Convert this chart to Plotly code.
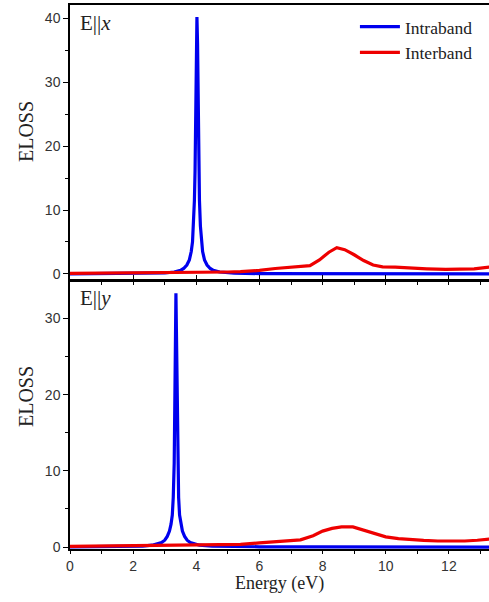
import plotly.graph_objects as go

# ---- data: top panel (E || x) ----
intra_x_e = [0, 1, 2, 2.5, 3.0, 3.3, 3.5, 3.6, 3.7, 3.78, 3.84, 3.88, 3.91, 3.94, 3.96, 3.98,
             4.0, 4.02, 4.04, 4.06, 4.08, 4.10, 4.13, 4.16, 4.20, 4.26, 4.34, 4.44, 4.54, 4.74,
             5.2, 6, 8, 10, 14]
intra_y_e = [0.02, 0.04, 0.06, 0.09, 0.15, 0.3, 0.55, 0.85, 1.4, 2.2, 3.5, 5.0, 7.5, 11.5, 16.0, 25.0,
             36.0, 40.2, 36.0, 25.0, 16.0, 11.5, 7.5, 5.0, 3.5, 2.2, 1.4, 0.85, 0.55, 0.3,
             0.12, 0.05, 0.02, 0.01, 0.0]
inter_x_e = [0, 1, 2, 3, 4, 4.5, 5.0, 5.4, 6.0, 6.5, 7.0, 7.6, 7.9, 8.2, 8.45, 8.7, 9.0, 9.3, 9.6,
             9.9, 10.3, 10.7, 11.3, 11.9, 12.4, 12.8, 13.3, 14]
inter_y_e = [0.1, 0.12, 0.15, 0.18, 0.22, 0.25, 0.3, 0.35, 0.55, 0.85, 1.1, 1.3, 2.2, 3.4, 4.1, 3.8, 3.0, 2.1, 1.4,
             1.1, 1.05, 1.0, 0.8, 0.7, 0.7, 0.8, 1.1, 1.4]

# ---- data: bottom panel (E || y) ----
intra_x_f = [0, 1, 2, 2.3, 2.6, 2.75, 2.9, 3.0, 3.08, 3.15, 3.2, 3.24, 3.27, 3.3, 3.32, 3.34,
             3.355, 3.37, 3.39, 3.41, 3.44, 3.47, 3.51, 3.56, 3.63, 3.71, 3.81, 3.96, 4.1, 4.5,
             5, 6, 8, 10, 14]
intra_y_f = [0.02, 0.04, 0.08, 0.12, 0.25, 0.38, 0.6, 0.9, 1.4, 2.1, 3.0, 4.2, 6.5, 11.0, 19.0, 28.5,
             33.3, 28.5, 19.0, 11.0, 6.5, 4.2, 3.0, 2.1, 1.4, 0.9, 0.6, 0.38, 0.25, 0.12,
             0.07, 0.04, 0.02, 0.01, 0.0]
inter_x_f = [0, 1, 2, 3, 4, 4.5, 5.4, 6.0, 6.6, 7.3, 7.7, 8.0, 8.3, 8.6, 8.96, 9.2, 9.4, 9.7,
             10.0, 10.4, 10.8, 11.2, 11.65, 12.1, 12.5, 12.9, 13.3, 14]
inter_y_f = [0.1, 0.15, 0.2, 0.15, 0.3, 0.32, 0.35, 0.55, 0.75, 0.95, 1.5, 2.1, 2.45, 2.64, 2.64, 2.35, 2.0, 1.65,
             1.34, 1.1, 0.95, 0.87, 0.8, 0.78, 0.8, 0.9, 1.1, 1.3]

x_ticks = [0, 2, 4, 6, 8, 10, 12]
top_y_ticks = [0, 10, 20, 30, 40]
bot_y_ticks = [0, 10, 20, 30]

BLUE = "#0000ee"
RED = "#ee0000"
serif = "Liberation Serif, Times New Roman, serif"
sans = "Liberation Sans, Arial, sans-serif"

fig = go.Figure()
fig.add_trace(go.Scatter(x=intra_x_e, y=intra_y_e, mode="lines", name="Intraband",
                         line=dict(color=BLUE, width=3.2), xaxis="x", yaxis="y"))
fig.add_trace(go.Scatter(x=inter_x_e, y=inter_y_e, mode="lines", name="Interband",
                         line=dict(color=RED, width=3.2), xaxis="x", yaxis="y"))
fig.add_trace(go.Scatter(x=intra_x_f, y=intra_y_f, mode="lines", name="Intraband", showlegend=False,
                         line=dict(color=BLUE, width=3.2), xaxis="x2", yaxis="y2"))
fig.add_trace(go.Scatter(x=inter_x_f, y=inter_y_f, mode="lines", name="Interband", showlegend=False,
                         line=dict(color=RED, width=3.2), xaxis="x2", yaxis="y2"))

xr = [0, 13.27]
common_x = dict(range=xr, showgrid=False, zeroline=False, showline=True, linecolor="black",
                linewidth=1.5, mirror=True, tickvals=x_ticks, tickwidth=1.2,
                tickcolor="black",
                minor=dict(dtick=1, tick0=0, ticklen=3, tickcolor="black", tickwidth=1),
                tickfont=dict(family=sans, size=14, color="#333"))
common_y = dict(showgrid=False, zeroline=False, showline=True, linecolor="black", linewidth=1.5,
                ticks="outside", ticklen=5, tickwidth=1.2, tickcolor="black",
                minor=dict(dtick=5, tick0=0, ticks="outside", ticklen=3, tickcolor="black"),
                tickfont=dict(family=sans, size=14, color="#333"))
title_font = dict(family=serif, size=20, color="#222")
fig.update_layout(
    width=489, height=602,
    margin=dict(l=70, r=0, t=5, b=53),
    paper_bgcolor="white", plot_bgcolor="white",
    showlegend=True,
    legend=dict(x=0.68, y=0.993, xanchor="left", yanchor="top", bgcolor="rgba(0,0,0,0)",
                font=dict(family=serif, size=17.5, color="#222"), tracegroupgap=0,
                itemwidth=40),
    xaxis=dict(common_x, anchor="y", ticks="inside", ticklen=5, showticklabels=False),
    yaxis=dict(common_y, domain=[0.4945, 1.0], range=[-0.95, 42.1], tickvals=top_y_ticks),
    xaxis2=dict(common_x, anchor="y2", ticks="outside", ticklen=3, showticklabels=True),
    yaxis2=dict(common_y, domain=[0.0, 0.4926], range=[-0.25, 34.9], tickvals=bot_y_ticks),
    annotations=[
        dict(text="E||<i>x</i>", xref="x domain", yref="y domain", x=0.018, y=0.985,
             xanchor="left", yanchor="top", showarrow=False,
             font=dict(family=serif, size=21, color="#222")),
        dict(text="E||<i>y</i>", xref="x2 domain", yref="y2 domain", x=0.018, y=0.99,
             xanchor="left", yanchor="top", showarrow=False,
             font=dict(family=serif, size=21, color="#222")),
        dict(text="ELOSS", xref="paper", yref="paper", x=-0.105, y=(602 - 53 - 132) / 544,
             xanchor="center", yanchor="middle", textangle=-90, showarrow=False, font=title_font),
        dict(text="ELOSS", xref="paper", yref="paper", x=-0.105, y=(602 - 53 - 397) / 544,
             xanchor="center", yanchor="middle", textangle=-90, showarrow=False, font=title_font),
        dict(text="Energy (eV)", xref="paper", yref="paper", x=(279 - 70) / 419, y=-(583 - 549) / 544,
             xanchor="center", yanchor="middle", showarrow=False,
             font=dict(family=serif, size=18, color="#222")),
    ],
)

fig.write_html("out.html", config={"displayModeBar": False},
               post_script="document.body.style.margin='0';document.body.style.overflow='hidden';")
